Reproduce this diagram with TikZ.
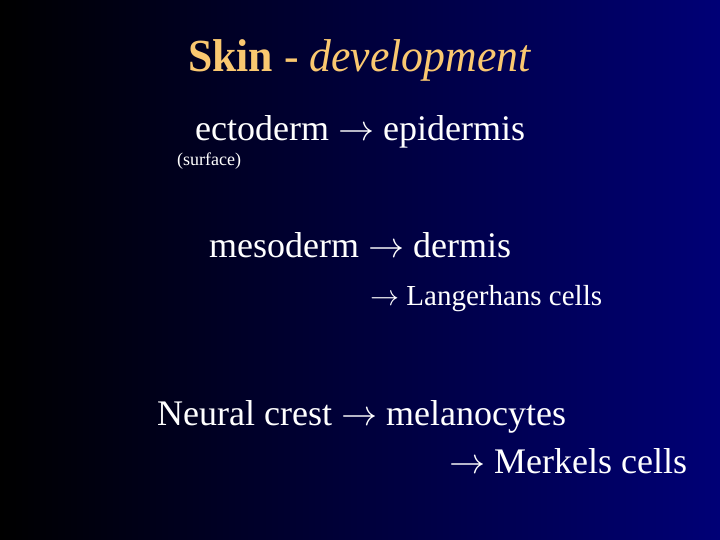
\RequirePackage{fix-cm}
\documentclass[tikz,border=0pt]{standalone}
\usepackage{fontspec}
\setmainfont{Liberation Serif}
\usepackage{tikz}
\definecolor{slidenavy}{RGB}{0,0,118}
\definecolor{titlegold}{RGB}{250,200,112}
\newcommand{\toarrow}{\ensuremath{\rightarrow}}

\begin{document}
\begin{tikzpicture}[x=1pt,y=-1pt,
  txt/.style={anchor=base west, inner sep=0pt, text=white},
  big/.style={txt, font=\fontsize{36}{40}\selectfont},
  mid/.style={txt, font=\fontsize{29}{32}\selectfont},
  tiny/.style={txt, font=\fontsize{18}{20}\selectfont}]
\shade[left color=black, right color=slidenavy] (0,0) rectangle (720,540);
\useasboundingbox (0,0) rectangle (720,540);
\node[txt, text=titlegold, xscale=0.95, font=\fontsize{46}{50}\selectfont] (title) at (188,72) {\textbf{Skin} - \textit{development}};
\node[big] (ecto) at (195,141) {ectoderm \toarrow{} epidermis};
\node[tiny] (surf) at (177,166) {(surface)};
\node[big] (meso) at (209,258) {mesoderm \toarrow{} dermis};
\node[mid] (lang) at (370,305) {\toarrow{} Langerhans cells};
\node[big] (neural) at (157,425) {Neural crest \toarrow{} melanocytes};
\node[big] (merkel) at (449,473) {\toarrow{} Merkels cells};
\end{tikzpicture}
\end{document}
